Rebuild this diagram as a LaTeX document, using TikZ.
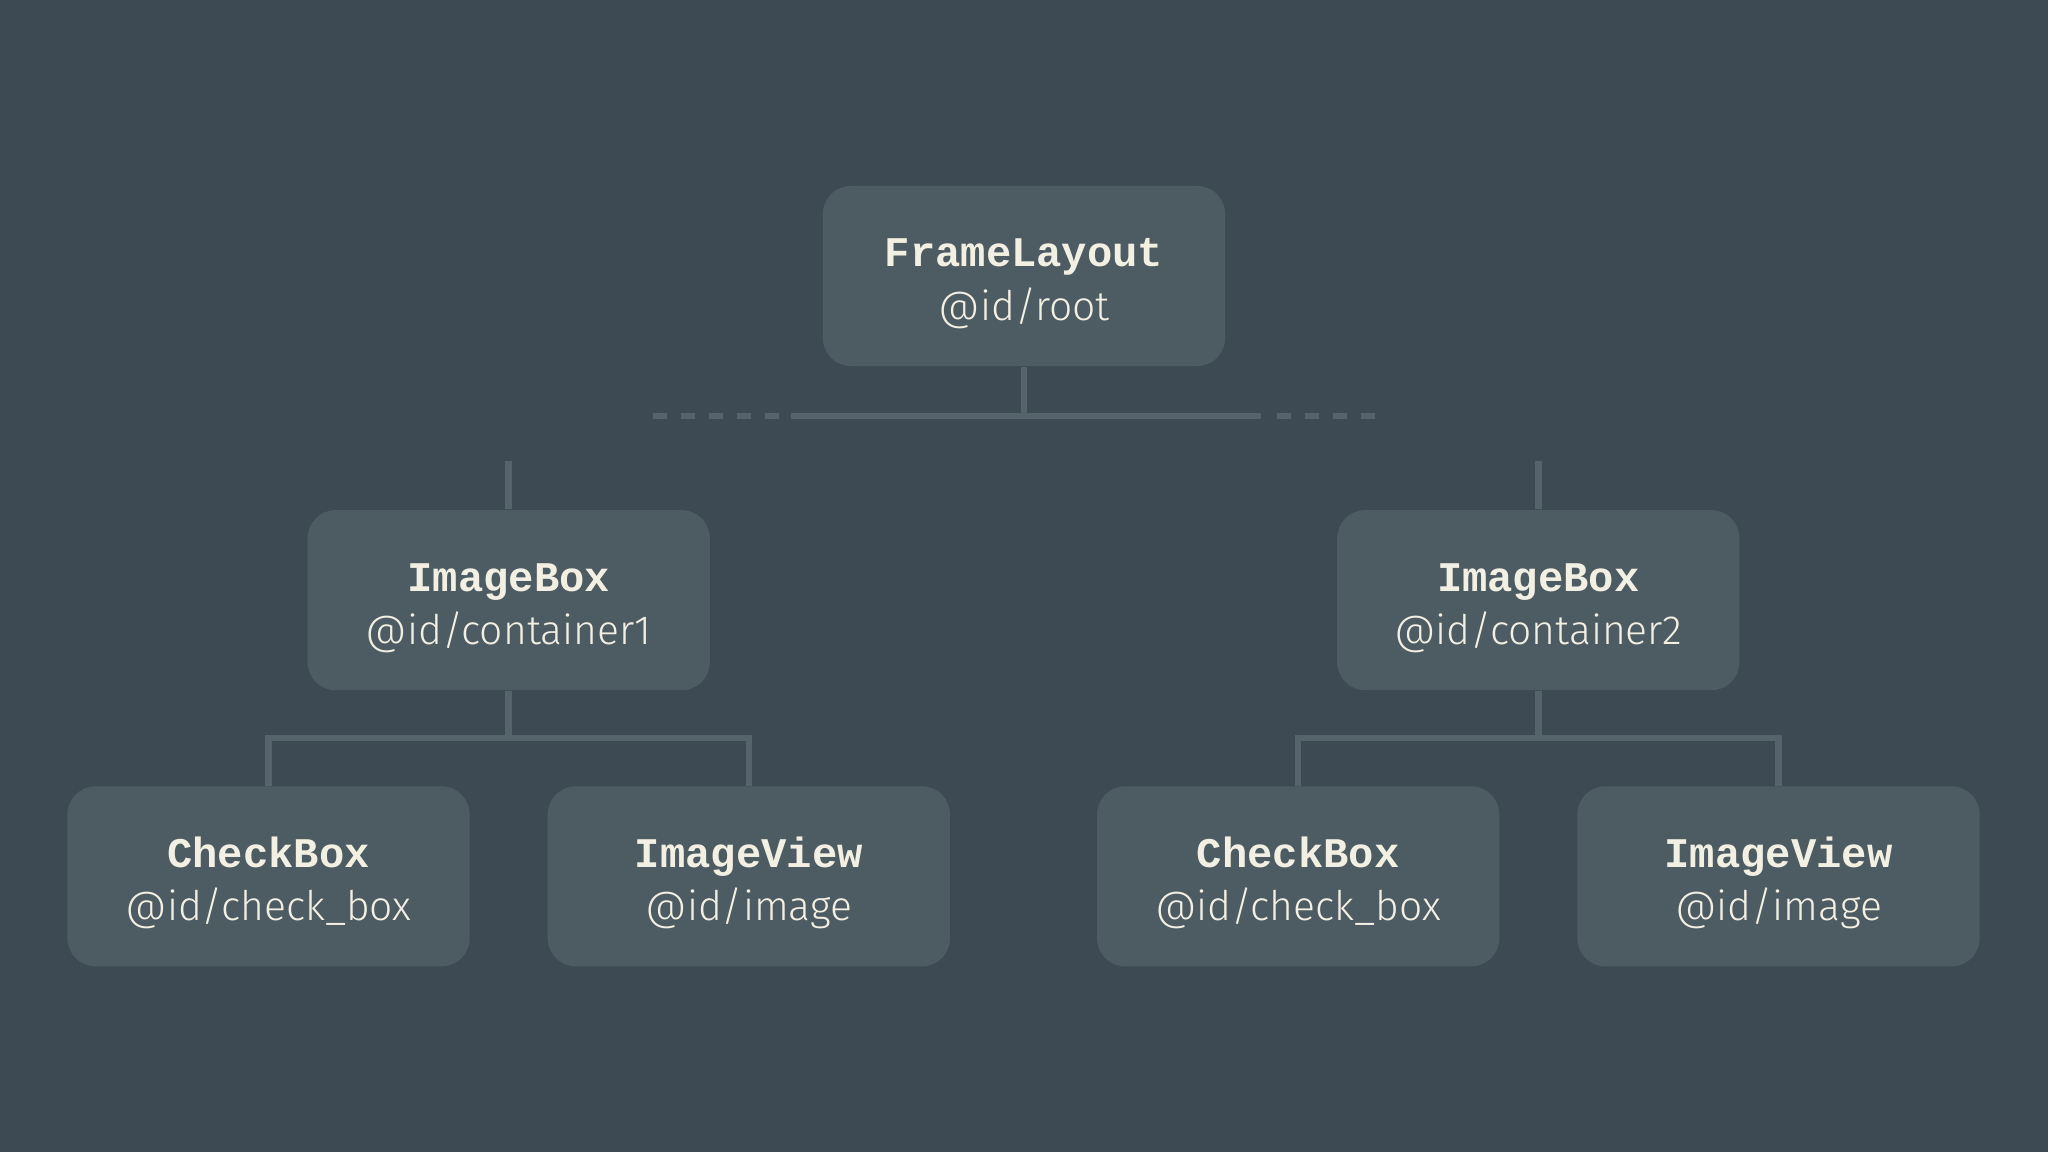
\documentclass[tikz,border=0pt]{standalone}
\usepackage{fontspec}
\usepackage{tikz}
\usetikzlibrary{positioning}
\setmonofont{Liberation Mono}
\newfontfamily\idfont{Fira Sans Light}
\definecolor{bgcol}{HTML}{3D4A54}
\definecolor{boxcol}{HTML}{4D5B62}
\definecolor{linkcol}{HTML}{55636A}
\definecolor{txtcol}{HTML}{F2EFE3}
\newcommand{\viewtext}[2]{{\ttfamily\bfseries\rule{0pt}{12.4pt}#1}\\{\idfont\fontsize{11.6pt}{15.2pt}\selectfont #2}}

\begin{document}
\begin{tikzpicture}[x=0.01cm, y=-0.01cm, node distance=2cm, on grid]
        \tikzset{view/.style={fill=boxcol, rounded corners=0.28cm, minimum width=4.02cm,
                minimum height=1.8cm, align=center, text=txtcol, inner sep=0pt,
                font=\fontsize{12pt}{15.2pt}\selectfont},
            link/.style={draw=linkcol, line width=0.065cm},
            fade/.style={link, dash pattern=on 0.14cm off 0.14cm}}

        \fill[bgcol] (0,0) rectangle (2048,1152);
        \useasboundingbox (0,0) rectangle (2048,1152);

        \node[view] (root) at (1024,276) {\viewtext{FrameLayout}{@id/root}};
        \node[view] (box1) [below left=3.24cm and 5.15cm of root] {\viewtext{ImageBox}{@id/container1}};
        \node[view] (box2) [below right=3.24cm and 5.14cm of root] {\viewtext{ImageBox}{@id/container2}};
        \node[view] (cb1) [below left=2.76cm and 2.4cm of box1] {\viewtext{CheckBox}{@id/check\_box}};
        \node[view] (iv1) [below right=2.76cm and 2.4cm of box1] {\viewtext{ImageView}{@id/image}};
        \node[view] (cb2) [below left=2.76cm and 2.4cm of box2] {\viewtext{CheckBox}{@id/check\_box}};
        \node[view] (iv2) [below right=2.76cm and 2.4cm of box2] {\viewtext{ImageView}{@id/image}};

        % top bar, fading out at both ends
        \coordinate (bar) at (1024,416);
        \coordinate (barL) at (791,416);
        \coordinate (barR) at (1261,416);
        \coordinate (fadeL) at (653,416);
        \coordinate (fadeR) at (1375,416);
        \draw[link] (root.south) -- (bar);
        \draw[link] (barL) -- (barR);
        \draw[fade] (fadeL) -- (780,416);
        \draw[fade] (1277,416) -- (fadeR);
        \coordinate (stem1) at (box1 |- 0,461);
        \coordinate (stem2) at (box2 |- 0,461);
        \draw[link] (stem1) -- (box1.north);
        \draw[link] (stem2) -- (box2.north);

        % children
        \coordinate (bar1) at (box1 |- 0,738);
        \coordinate (bar2) at (box2 |- 0,738);
        \draw[link] (box1.south) -- (bar1);
        \draw[link] (box2.south) -- (bar2);
        \draw[link] (cb1.north) |- (bar1) -| (iv1.north);
        \draw[link] (cb2.north) |- (bar2) -| (iv2.north);
    \end{tikzpicture}
\end{document}
